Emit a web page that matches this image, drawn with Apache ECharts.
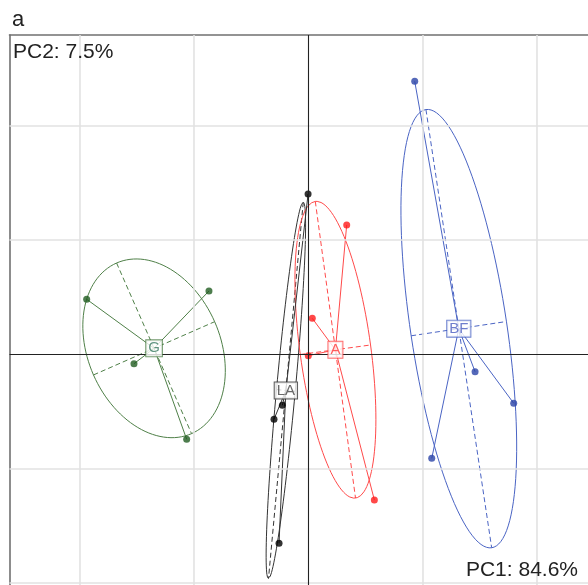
<!DOCTYPE html>
<html>
<head>
<meta charset="utf-8">
<script src="https://cdn.jsdelivr.net/npm/echarts@6/dist/echarts.min.js"></script>
<style>html,body{margin:0;padding:0;background:#fff;}#c{width:588px;height:585px;}</style>
</head>
<body>
<div id="c"></div>
<script>
// Group names
var groups = ['G', 'LA', 'A', 'BF'];
// PC1 / PC2 scores per sample, by group
var pc1_G  = [-1.941, -0.871, -1.527, -1.066];
var pc2_G  = [ 0.479,  0.551, -0.085, -0.746];
var pc1_LA = [-0.004, -0.302, -0.229, -0.258];
var pc2_LA = [ 1.400, -0.571, -0.449, -1.656];
var pc1_A  = [ 0.334,  0.033, -0.002,  0.576];
var pc2_A  = [ 1.129,  0.312, -0.015, -1.277];
var pc1_BF = [ 0.929,  1.457,  1.795,  1.078];
var pc2_BF = [ 2.386, -0.155, -0.431, -0.913];
var gridTicks = [-2, -1, 1, 2];
var axisTitleX = 'PC1: 84.6%';
var axisTitleY = 'PC2: 7.5%';
var panelLabel = 'a';

var pcData = {G:[pc1_G,pc2_G], LA:[pc1_LA,pc2_LA], A:[pc1_A,pc2_A], BF:[pc1_BF,pc2_BF]};
var lineColors  = {G:'#4f8048', LA:'#333333', A:'#ff4a4a', BF:'#4a64c4'};
var pointColors = {G:'#205c20', LA:'#000000', A:'#ff1a1a', BF:'#2a44a8'};
var textColors  = {G:'#3a7a62', LA:'#444444', A:'#ff3a3a', BF:'#4a5cc0'};
var cellipse = 1.5;

var series = [];

// grid lines and zero axes via markLine
series.push({
  type: 'scatter', data: [[0,0]], symbolSize: 0, silent: true, z: 1,
  markLine: {
    silent: true, symbol: ['none','none'], label: {show:false},
    animation: false,
    data: gridTicks.map(function(v){return {xAxis:v, lineStyle:{color:'#e2e2e2', width:1.6, type:'solid'}};})
      .concat(gridTicks.map(function(v){return {yAxis:v, lineStyle:{color:'#e2e2e2', width:1.6, type:'solid'}};}))
      .concat([{xAxis:0, lineStyle:{color:'#222', width:1.1, type:'solid'}},
               {yAxis:0, lineStyle:{color:'#222', width:1.1, type:'solid'}}])
  }
});

groups.forEach(function(g){
  var xs = pcData[g][0], ys = pcData[g][1], n = xs.length;
  var mx = 0, my = 0;
  for (var i=0;i<n;i++){mx+=xs[i];my+=ys[i];}
  mx/=n; my/=n;
  var vxx=0, vyy=0, vxy=0;
  for (var i=0;i<n;i++){var dx=xs[i]-mx, dy=ys[i]-my; vxx+=dx*dx; vyy+=dy*dy; vxy+=dx*dy;}
  vxx/=n; vyy/=n; vxy/=n;
  var tr=(vxx+vyy)/2, disc=Math.sqrt(tr*tr-(vxx*vyy-vxy*vxy));
  var l1=tr+disc, l2=Math.max(tr-disc,0);
  var ux, uy;
  if (Math.abs(vxy) > 1e-12) { ux = vxy; uy = l1 - vxx; } else if (vxx >= vyy) { ux=1; uy=0; } else { ux=0; uy=1; }
  var un=Math.sqrt(ux*ux+uy*uy); ux/=un; uy/=un;
  var vx=-uy, vy=ux;
  var a=cellipse*Math.sqrt(l1), b=cellipse*Math.sqrt(l2);
  var ell=[];
  for (var k=0;k<=120;k++){
    var t=2*Math.PI*k/120;
    ell.push([mx + a*Math.cos(t)*ux + b*Math.sin(t)*vx, my + a*Math.cos(t)*uy + b*Math.sin(t)*vy]);
  }
  var lc=lineColors[g];
  series.push({type:'line', data:ell, showSymbol:false, symbol:'none', smooth:false, silent:true, z:2,
    lineStyle:{color:lc, width:1}, animation:false});
  // ellipse axes (dashed)
  series.push({type:'line', data:[[mx+a*ux,my+a*uy],[mx-a*ux,my-a*uy]], symbol:'none', silent:true, z:2,
    lineStyle:{color:lc, width:1, type:[5,3]}, animation:false});
  series.push({type:'line', data:[[mx+b*vx,my+b*vy],[mx-b*vx,my-b*vy]], symbol:'none', silent:true, z:2,
    lineStyle:{color:lc, width:1, type:[5,3]}, animation:false});
  // star lines
  for (var i=0;i<n;i++){
    series.push({type:'line', data:[[mx,my],[xs[i],ys[i]]], symbol:'none', silent:true, z:3,
      lineStyle:{color:lc, width:1}, animation:false});
  }
  // points
  var pts=[]; for (var i=0;i<n;i++) pts.push([xs[i],ys[i]]);
  series.push({type:'scatter', data:pts, symbol:'circle', symbolSize:7, silent:true, z:4,
    itemStyle:{color:pointColors[g]}, animation:false});
  // centroid label
  series.push({type:'scatter', data:[[mx,my]], symbolSize:1, silent:true, z:6, zlevel:0,
    itemStyle:{color:'rgba(0,0,0,0)'}, animation:false,
    label:{show:true, position:'inside', formatter:g, fontFamily:'Liberation Sans, Arial, sans-serif',
      fontSize:15, lineHeight:14, color:textColors[g], backgroundColor:'#fff',
      borderColor:lc, borderWidth:1, padding:[1,2,1,2]}});
});

var chart = echarts.init(document.getElementById('c'), null, {renderer:'canvas'});
chart.setOption({
  animation: false,
  backgroundColor: '#fff',
  grid: {left: 9.5, right: 0, top: 35, bottom: 0, containLabel: false},
  xAxis: {type:'value', min:-2.616, max:2.445, position:'top',
    axisLine:{show:true, onZero:false, lineStyle:{color:'#707070', width:1.6}},
    axisTick:{show:false}, axisLabel:{show:false}, splitLine:{show:false}},
  yAxis: {type:'value', min:-2.021, max:2.791, position:'left',
    axisLine:{show:true, onZero:false, lineStyle:{color:'#707070', width:1.6}},
    axisTick:{show:false}, axisLabel:{show:false}, splitLine:{show:false}},
  graphic: [
    {type:'text', x:12, y:20, z:100, style:{text:panelLabel, font:'22px "Liberation Sans", Arial, sans-serif', fill:'#222', verticalAlign:'middle'}},
    {type:'text', x:13, y:52.5, z:100, style:{text:axisTitleY, font:'21px "Liberation Sans", Arial, sans-serif', fill:'#222', verticalAlign:'middle'}},
    {type:'text', x:578, y:570.5, z:100, style:{text:axisTitleX, font:'21px "Liberation Sans", Arial, sans-serif', fill:'#222', align:'right', verticalAlign:'middle'}}
  ],
  series: series
});
</script>
</body>
</html>
